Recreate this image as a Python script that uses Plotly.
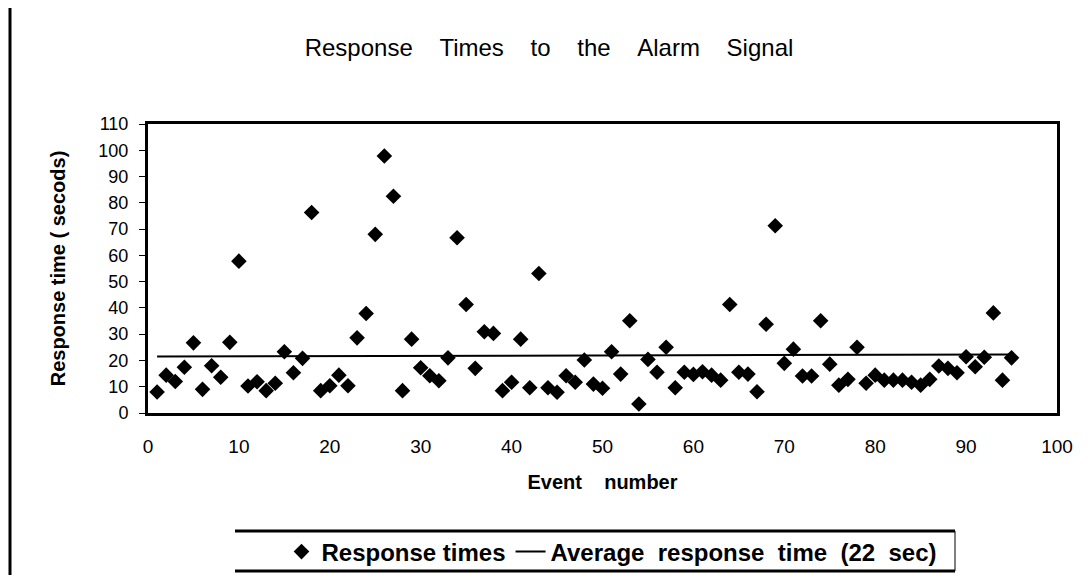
import plotly.graph_objects as go

# Data
events = list(range(1, 96))
response_times = [
    8, 14.4, 12, 17.4, 26.7, 9, 18, 13.6, 26.9, 57.8,
    10.3, 11.9, 8.5, 11.3, 23.3, 15.3, 20.8, 76.3, 8.5, 10.4,
    14.4, 10.4, 28.6, 37.9, 68, 97.8, 82.5, 8.5, 28.1, 17.2,
    14.2, 12.3, 21, 66.7, 41.3, 17, 30.9, 30.3, 8.5, 11.7,
    28.1, 9.6, 53.1, 9.6, 7.9, 14.2, 11.7, 20.2, 11, 9.4,
    23.3, 14.8, 35.1, 3.4, 20.4, 15.5, 25, 9.6, 15.5, 14.7,
    15.7, 14.4, 12.5, 41.3, 15.5, 14.8, 8.1, 33.8, 71.3, 18.9,
    24.3, 14.1, 14.1, 35.1, 18.6, 10.6, 12.8, 25, 11.3, 14.4,
    12.5, 12.5, 12.5, 11.7, 10.6, 12.8, 17.9, 17, 15.3, 21.4,
    17.6, 21.2, 38.1, 12.5, 21,
]
avg_x = [1, 95]
avg_y = [21.5, 22.3]
x_ticks = [0, 10, 20, 30, 40, 50, 60, 70, 80, 90, 100]
y_ticks = [0, 10, 20, 30, 40, 50, 60, 70, 80, 90, 100, 110]

font_family = "Liberation Sans, Arial, sans-serif"
NB = "\u00a0"

def spaced(text, n):
    return (NB * n).join(text.split(" "))

# the page body has an 8px margin: figure sized so that it fills the window
OFF = 8
W, H = 1090 - OFF, 575 - OFF
# plot area in page pixels
PX0, PX1, PY0, PY1 = 148, 1057, 124, 413
L, R = PX0 - OFF, W - (PX1 - OFF)
T, B = PY0 - OFF, H - (PY1 - OFF)
PW, PH = PX1 - PX0, PY1 - PY0

def px_x(px):
    return (px - PX0) / PW

def px_y(py):
    return (PY1 - py) / PH

fig = go.Figure()
fig.add_trace(go.Scatter(
    x=events, y=response_times, mode="markers", name="Response times",
    marker=dict(symbol="diamond", size=12, color="black"),
))
fig.add_trace(go.Scatter(
    x=avg_x, y=avg_y, mode="lines",
    name=spaced("Average response time (22 sec)", 2),
    line=dict(color="black", width=2),
))

fig.update_layout(
    width=W, height=H,
    margin=dict(l=L, r=R, t=T, b=B, autoexpand=False),
    paper_bgcolor="white", plot_bgcolor="white",
    font=dict(family=font_family, color="black", size=16),
    title=dict(
        text=spaced("Response Times to the Alarm Signal", 4),
        xref="container", x=(549 - OFF) / W, xanchor="center",
        yref="container", y=1 - (48 - OFF) / H, yanchor="middle",
        font=dict(size=24, family=font_family),
    ),
    showlegend=True,
    legend=dict(
        orientation="h", x=px_x(612), xanchor="center", y=px_y(552), yanchor="middle",
        borderwidth=0, bgcolor="rgba(0,0,0,0)",
        font=dict(size=24, family=font_family, weight="bold"),
        itemwidth=30, tracegroupgap=0,
    ),
    xaxis=dict(
        range=[0, 100], tickvals=x_ticks, showgrid=False, zeroline=False,
        showline=True, linecolor="black", linewidth=3, mirror=True,
        ticks="", ticklabelstandoff=14,
        tickfont=dict(size=19),
        title=dict(text=spaced("Event number", 4), standoff=20,
                   font=dict(size=20, weight="bold")),
    ),
    yaxis=dict(
        range=[0, 110], tickvals=y_ticks, showgrid=False, zeroline=False,
        showline=True, linecolor="black", linewidth=3, mirror=True,
        ticks="outside", ticklen=6, tickcolor="black", tickwidth=1,
        ticklabelstandoff=7,
        tickfont=dict(size=18),
        title=dict(text="Response time ( secods)", standoff=28,
                   font=dict(size=20, weight="bold")),
    ),
)

# page border line at left of the scan
fig.add_shape(type="line", xref="paper", yref="paper",
              x0=px_x(10), x1=px_x(10), y0=px_y(575), y1=px_y(0),
              line=dict(color="black", width=3))
# legend frame lines (top, bottom, thin right side)
for py in (531, 571):
    fig.add_shape(type="line", xref="paper", yref="paper",
                  x0=px_x(235), x1=px_x(955), y0=px_y(py), y1=px_y(py),
                  line=dict(color="black", width=3))
fig.add_shape(type="line", xref="paper", yref="paper",
              x0=px_x(955), x1=px_x(955), y0=px_y(531), y1=px_y(571),
              line=dict(color="black", width=1))

fig.write_html("out.html")
